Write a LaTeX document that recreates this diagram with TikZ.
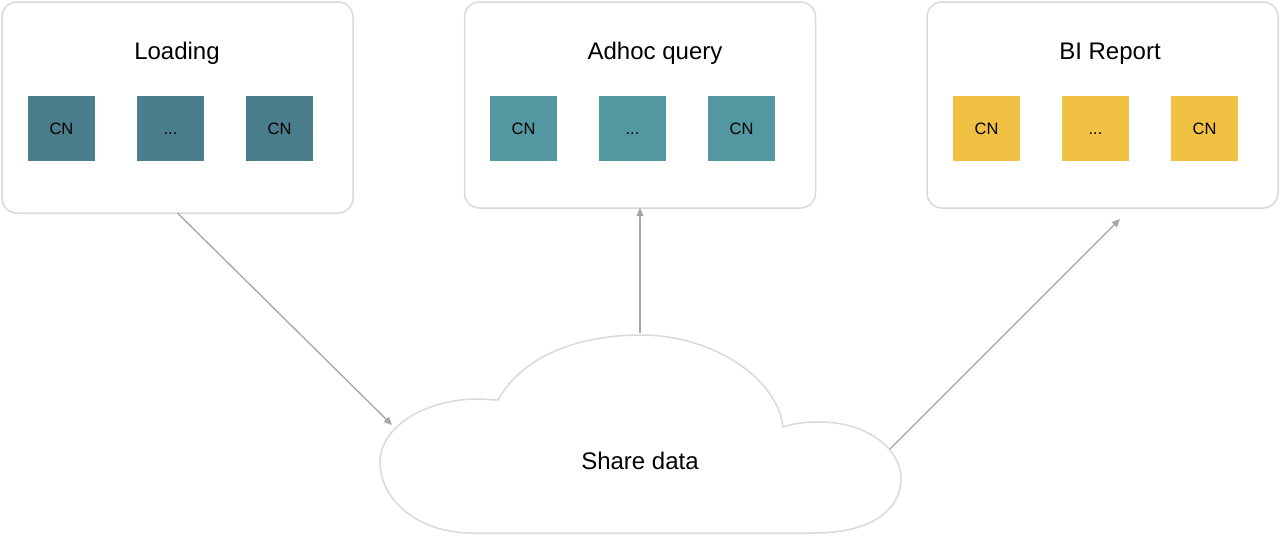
\documentclass[tikz,border=0pt]{standalone}
\usepackage{fontspec}
\setmainfont{Liberation Sans}
\usetikzlibrary{arrows.meta}

\definecolor{loadteal}{HTML}{4A7E8C}
\definecolor{queryteal}{HTML}{5397A0}
\definecolor{reportyellow}{HTML}{F0C142}
\definecolor{panelgray}{HTML}{D9D9D9}
\definecolor{linkgray}{HTML}{A6A6A6}

\newlength\cnwidth
\setlength\cnwidth{67pt}
\newlength\cnheight
\setlength\cnheight{65pt}

\newcommand\cndots{...}

\tikzset{
  panel/.style={draw=panelgray, line width=1.5pt, rounded corners=15pt, fill=white,
    inner sep=0pt, outer sep=0pt, minimum width=351pt},
  cnbox/.style={fill=#1, minimum width=\cnwidth, minimum height=\cnheight, inner sep=0pt,
    text height=12pt, text depth=0pt, font=\fontsize{16.5}{20}\selectfont},
  title/.style={anchor=base, font=\fontsize{24}{29}\selectfont},
  link/.style={draw=linkgray, line width=1.3pt, -{Triangle[length=8pt,width=7pt]}},
}

\begin{document}
\begin{tikzpicture}[x=1pt,y=-1pt]
    \fill[white] (0,0) rectangle (1280,536);
    \useasboundingbox (0,0) rectangle (1280,536);

    \begin{scope}
      \node[panel, minimum height=211pt] (loading) at (177.5,107.5) {};
      \node[panel, minimum height=206pt] (adhoc) at (640,105) {};
      \node[panel, minimum height=206pt] (bireport) at (1102.5,105) {};

      \node[title] (loadingtitle) at (177,59) {Loading};
      \node[title] (adhoctitle) at (655,59) {Adhoc query};
      \node[title] (bireporttitle) at (1110,59) {BI Report};

      \foreach \p/\x/\c in {loading/2/loadteal, adhoc/464/queryteal, bireport/927/reportyellow} {
        \foreach \i/\t in {0/CN,1/\cndots,2/CN} {
          \node[cnbox=\c] (\p-cn\i) at ({\x+59.5+\i*109},128.5) {\t};
        }
      }
    \end{scope}

    \begin{scope}
      \draw[draw=panelgray, line width=1.5pt, fill=white] (498,400)
        .. controls (525,352) and (585,335) .. (641,335)
        .. controls (715,335) and (778,380) .. (783,427)
        .. controls (795,423) and (806,422) .. (820,422)
        .. controls (868,422) and (901,450) .. (901,478)
        .. controls (901,512) and (868,533) .. (815,533)
        -- (472,533)
        .. controls (418,533) and (380,500) .. (380,462)
        .. controls (380,427) and (425,399) .. (478,399)
        .. controls (486,399) and (492,400) .. (498,400)
        -- cycle;
      \node[font=\fontsize{24}{29}\selectfont] (share) at (640,461) {Share data};

      \coordinate (cloudtop) at (640,333);
      \coordinate (cloudleft) at (392,425);
      \coordinate (cloudright) at (890,449);
      \coordinate (reportin) at (1120,219);
    \end{scope}

    \draw[link] (loading.south) -- (cloudleft);
    \draw[link] (cloudtop) -- (adhoc.south);
    \draw[link] (cloudright) -- (reportin);
  \end{tikzpicture}
\end{document}
